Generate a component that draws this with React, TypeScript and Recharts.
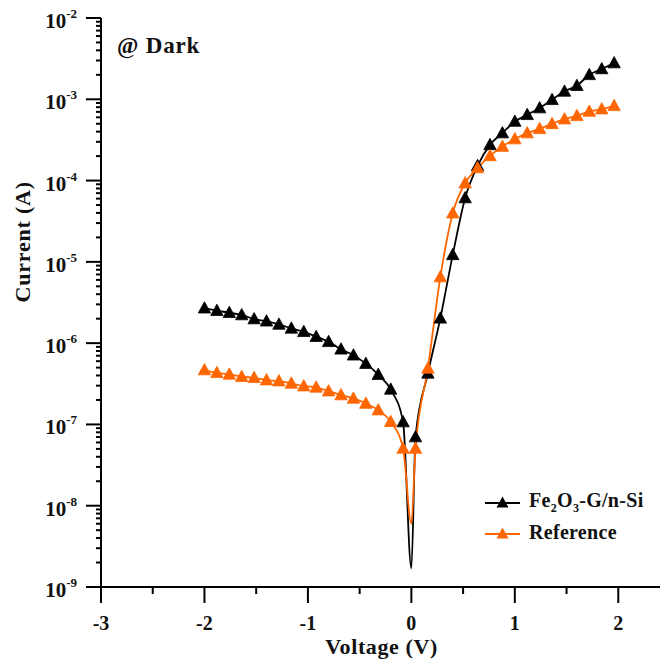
import React from "react";
import { LineChart, Line, XAxis, YAxis, Legend } from "recharts";

// Bias voltage (V) at each measured point
const VOLTAGE = [
  -2, -1.88, -1.76, -1.64, -1.52, -1.4, -1.28, -1.16, -1.04, -0.92, -0.8, -0.68,
  -0.56, -0.44, -0.32, -0.2, -0.08, 0.04, 0.16, 0.28, 0.4, 0.52, 0.64, 0.76, 0.88,
  1.0, 1.12, 1.24, 1.36, 1.48, 1.6, 1.72, 1.84, 1.96,
];

// Dark current (A) of the Fe2O3-G/n-Si device
const FE_CURRENT = [
  2.69e-6, 2.51e-6, 2.37e-6, 2.22e-6, 1.98e-6, 1.86e-6, 1.7e-6, 1.52e-6, 1.38e-6,
  1.2e-6, 1.04e-6, 8.4e-7, 7.1e-7, 5.6e-7, 4.1e-7, 2.7e-7, 1.07e-7, 7.0e-8, 4.25e-7,
  2.02e-6, 1.22e-5, 6.1e-5, 1.52e-4, 2.75e-4, 3.84e-4, 5.33e-4, 6.45e-4, 7.8e-4,
  9.87e-4, 1.25e-3, 1.47e-3, 2.0e-3, 2.36e-3, 2.79e-3,
];

// Dark current (A) of the reference device
const REF_CURRENT = [
  4.67e-7, 4.32e-7, 4.13e-7, 3.86e-7, 3.75e-7, 3.51e-7, 3.41e-7, 3.2e-7, 2.96e-7,
  2.86e-7, 2.57e-7, 2.3e-7, 2.09e-7, 1.81e-7, 1.5e-7, 1.08e-7, 5.06e-8, 5.06e-8,
  4.9e-7, 6.5e-6, 3.97e-5, 9.3e-5, 1.43e-4, 2.01e-4, 2.62e-4, 3.24e-4, 3.84e-4,
  4.34e-4, 4.99e-4, 5.7e-4, 6.26e-4, 7.08e-4, 7.57e-4, 8.31e-4,
];

// Current minimum at zero bias (line only, no marker)
const FE_DIP = { v: 0, i: 1.7e-9 };
const REF_DIP = { v: 0, i: 6e-9 };

const X_TICKS = [-3, -2.5, -2, -1.5, -1, -0.5, 0, 0.5, 1, 1.5, 2, 2.5];
const Y_EXPONENTS = [-9, -8, -7, -6, -5, -4, -3, -2];
const Y_MINOR = [2, 3, 4, 5, 6, 7, 8, 9];

const SERIES_NAMES = ["Fe2O3-G/n-Si", "Reference"];
const COLORS = ["#000000", "#ff6600"];
const FONT = "'Liberation Serif', 'Times New Roman', serif";

const Y_TICKS = Y_EXPONENTS.flatMap((e) =>
  e === -2 ? [10 ** e] : [10 ** e, ...Y_MINOR.map((m) => m * 10 ** e)]
);

type Pt = { v: number; i: number; dip?: boolean };

function buildSeries(current: number[], dip: { v: number; i: number }): Pt[] {
  const pts: Pt[] = VOLTAGE.map((v, k) => ({ v, i: current[k] }));
  pts.push({ ...dip, dip: true });
  return pts.sort((a, b) => a.v - b.v);
}

const feData = buildSeries(FE_CURRENT, FE_DIP);
const refData = buildSeries(REF_CURRENT, REF_DIP);

const makeTriangle = (color: string) => (props: any) => {
  const { cx, cy, payload, index } = props;
  if (payload?.dip || cx == null || cy == null) return <g key={`d${index}`} />;
  return (
    <polygon
      key={`d${index}`}
      points={`${cx},${cy - 6.5} ${cx - 6.2},${cy + 4.8} ${cx + 6.2},${cy + 4.8}`}
      fill={color}
      stroke={color}
      strokeWidth={0.8}
    />
  );
};

const XTick = (props: any) => {
  const { x, y, payload } = props;
  const v = payload.value as number;
  const major = Number.isInteger(v);
  return (
    <g>
      <line x1={x} x2={x} y1={y} y2={y + (major ? 16 : 7)} stroke="#000" strokeWidth={2} />
      {major && (
        <text
          x={x}
          y={y + 43}
          textAnchor="middle"
          fontFamily={FONT}
          fontWeight="bold"
          fontSize={20}
          fill="#111"
        >
          {String(v)}
        </text>
      )}
    </g>
  );
};

const YTick = (props: any) => {
  const { x, y, payload } = props;
  const v = payload.value as number;
  const lg = Math.log10(v);
  const e = Math.round(lg);
  const major = Math.abs(lg - e) < 1e-6;
  return (
    <g>
      <line x1={x} x2={x - (major ? 15 : 5)} y1={y} y2={y} stroke="#000" strokeWidth={2} />
      {major && (
        <text
          x={x - 24}
          y={y + 10}
          textAnchor="end"
          fontFamily={FONT}
          fontWeight="bold"
          fontSize={21}
          fill="#111"
        >
          <tspan>10</tspan>
          <tspan dy={-10} fontSize={13}>
            {String(e)}
          </tspan>
        </text>
      )}
    </g>
  );
};

const LegendMark = ({ color }: { color: string }) => (
  <svg width={40} height={14} style={{ display: "block" }}>
    <line x1={2} x2={37} y1={8} y2={8} stroke={color} strokeWidth={2} />
    <polygon points="19.5,1.5 13.5,12.5 25.5,12.5" fill={color} />
  </svg>
);

const LegendBox = () => (
  <div style={{ fontFamily: FONT, fontWeight: "bold", fontSize: 20, color: "#111" }}>
    {SERIES_NAMES.map((name, k) => (
      <div key={name} style={{ display: "flex", alignItems: "center", height: 30.6 }}>
        <LegendMark color={COLORS[k]} />
        <span style={{ marginLeft: 6, whiteSpace: "nowrap", letterSpacing: 0.3 }}>
          {k === 0 ? (
            <>
              Fe<sub style={{ fontSize: 12 }}>2</sub>O<sub style={{ fontSize: 12 }}>3</sub>-G/n-Si
            </>
          ) : (
            name
          )}
        </span>
      </div>
    ))}
  </div>
);

export default function App() {
  return (
    <div
      style={{
        position: "fixed",
        left: 0,
        top: 0,
        width: 660,
        height: 662,
        overflow: "hidden",
        background: "#fff",
      }}
    >
      <LineChart width={680} height={662} margin={{ top: 18, right: 10, bottom: 0, left: 0 }}>
        <XAxis
          type="number"
          dataKey="v"
          domain={[-3, 2.5]}
          ticks={X_TICKS}
          interval={0}
          height={75}
          tickSize={0}
          tickMargin={0}
          tickLine={false}
          axisLine={{ stroke: "#000", strokeWidth: 2 }}
          tick={(p: any) => <XTick {...p} />}
          allowDataOverflow
          label={{
            value: "Voltage (V)",
            position: "insideBottom",
            offset: 8,
            dx: -4,
            fontFamily: FONT,
            fontWeight: "bold",
            fontSize: 22,
            fill: "#111",
            letterSpacing: 0.6,
          }}
        />
        <XAxis
          xAxisId="top"
          orientation="top"
          type="number"
          domain={[-3, 2.5]}
          height={0}
          tick={false}
          tickLine={false}
          axisLine={{ stroke: "#000", strokeWidth: 2 }}
        />
        <YAxis
          type="number"
          scale="log"
          domain={[1e-9, 1e-2]}
          ticks={Y_TICKS}
          interval={0}
          width={101}
          tickSize={0}
          tickMargin={0}
          tickLine={false}
          axisLine={{ stroke: "#000", strokeWidth: 2 }}
          tick={(p: any) => <YTick {...p} />}
          allowDataOverflow
          label={{
            value: "Current (A)",
            angle: -90,
            position: "insideLeft",
            offset: 22,
            fontFamily: FONT,
            fontWeight: "bold",
            fontSize: 22,
            fill: "#111",
            letterSpacing: 0.8,
          }}
        />
        <Line
          data={feData}
          dataKey="i"
          name={SERIES_NAMES[0]}
          type="monotone"
          stroke={COLORS[0]}
          strokeWidth={1.8}
          dot={makeTriangle(COLORS[0])}
          activeDot={false}
          isAnimationActive={false}
        />
        <Line
          data={refData}
          dataKey="i"
          name={SERIES_NAMES[1]}
          type="monotone"
          stroke={COLORS[1]}
          strokeWidth={1.8}
          dot={makeTriangle(COLORS[1])}
          activeDot={false}
          isAnimationActive={false}
        />
        <Legend
          layout="vertical"
          align="center"
          verticalAlign="middle"
          wrapperStyle={{ left: 483, top: 487, width: 180 }}
          content={() => <LegendBox />}
        />
      </LineChart>
      <svg
        width={660}
        height={662}
        style={{ position: "absolute", left: 0, top: 0, pointerEvents: "none" }}
      >
        <text
          x={117}
          y={53}
          fontFamily={FONT}
          fontWeight="bold"
          fontSize={23}
          letterSpacing={0.8}
          fill="#111"
        >
          @ Dark
        </text>
      </svg>
    </div>
  );
}
